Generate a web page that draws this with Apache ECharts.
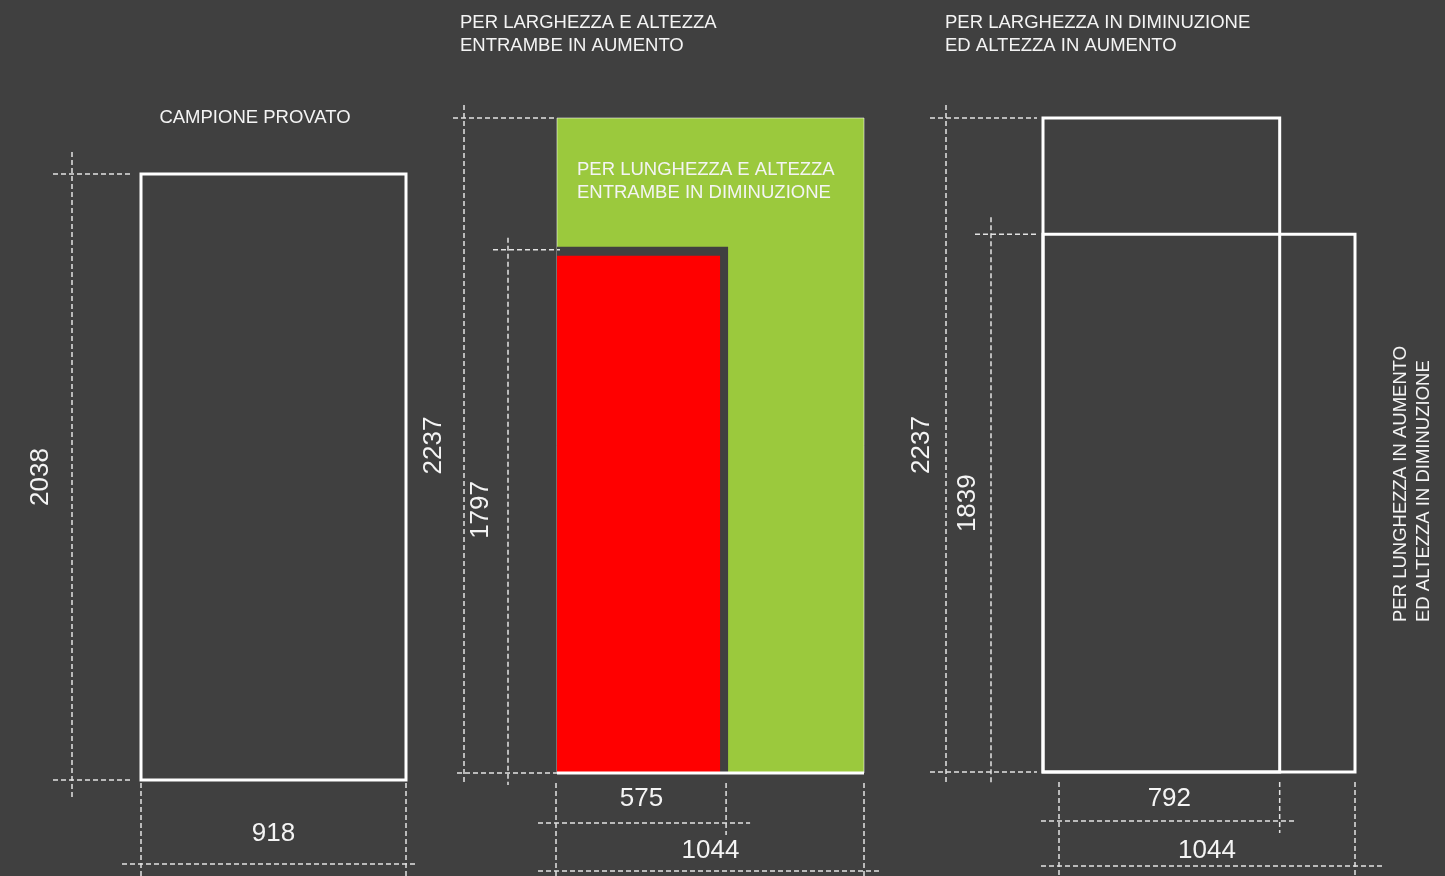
<!DOCTYPE html>
<html>
<head>
<meta charset="utf-8">
<script src="https://cdn.jsdelivr.net/npm/echarts@6/dist/echarts.min.js"></script>
<style>
  html, body { margin: 0; padding: 0; background: #404040; }
  #chart { width: 1445px; height: 876px; }
</style>
</head>
<body>
<div id="chart"></div>
<script>
// misure in mm (larghezza, altezza)
const sampleDims = [918, 2038]
const bothUpDims = [1044, 2237]
const bothDownDims = [575, 1797]
const widthDownDims = [792, 2237]
const widthUpDims = [1044, 1839]

const sampleTitle = 'CAMPIONE PROVATO'
const bothUpTitle = ['PER LARGHEZZA E ALTEZZA', 'ENTRAMBE IN AUMENTO']
const bothDownTitle = ['PER LUNGHEZZA E ALTEZZA', 'ENTRAMBE IN DIMINUZIONE']
const widthDownTitle = ['PER LARGHEZZA IN DIMINUZIONE', 'ED ALTEZZA IN AUMENTO']
const widthUpTitle = ['PER LUNGHEZZA IN AUMENTO', 'ED ALTEZZA IN DIMINUZIONE']

const bg = '#404040'
const dimColor = '#e2e2e2'
const font = 'Liberation Sans, Arial, sans-serif'

function dash(x1, y1, x2, y2) {
  return {
    type: 'line',
    shape: { x1: x1, y1: y1, x2: x2, y2: y2 },
    style: { stroke: dimColor, lineWidth: 1.5, lineDash: [5, 3] }
  }
}

function solid(x1, y1, x2, y2, w) {
  return {
    type: 'line',
    shape: { x1: x1, y1: y1, x2: x2, y2: y2 },
    style: { stroke: '#fff', lineWidth: w }
  }
}

function box(a, b, style) {
  return {
    type: 'rect',
    shape: { x: a[0], y: b[1], width: b[0] - a[0], height: a[1] - b[1] },
    style: style
  }
}

function dimLabel(x, y, val, vertical) {
  return {
    type: 'text',
    x: x,
    y: y,
    rotation: vertical ? Math.PI / 2 : 0,
    style: {
      text: String(val),
      fill: '#f4f4f4',
      font: '26px ' + font,
      align: 'center',
      verticalAlign: 'middle'
    }
  }
}

function caption(x, y, str, align, rotated) {
  return {
    type: 'text',
    x: x,
    y: y,
    z: 100,
    rotation: rotated ? Math.PI / 2 : 0,
    style: {
      text: str,
      fill: '#f4f4f4',
      font: '18.5px ' + font,
      align: align || 'left',
      verticalAlign: 'middle'
    }
  }
}

// campione provato
function renderSample(params, api) {
  const w = api.value(0), h = api.value(1)
  const o = api.coord([0, 0])
  const p = api.coord([w, h])
  return {
    type: 'group',
    children: [
      box(o, p, { fill: 'none', stroke: '#fff', lineWidth: 3 }),
      dash(o[0] - 69, p[1] - 22, o[0] - 69, o[1] + 17),
      dash(o[0] - 88, p[1], o[0] - 11, p[1]),
      dash(o[0] - 88, o[1], o[0] - 11, o[1]),
      dimLabel(o[0] - 100, (o[1] + p[1]) / 2, h, true),
      dash(o[0] - 19, o[1] + 84, p[0] + 12, o[1] + 84),
      dash(o[0], o[1] + 3, o[0], o[1] + 96),
      dash(p[0], o[1] + 3, p[0], o[1] + 96),
      dimLabel((o[0] + p[0]) / 2, o[1] + 54, w, false)
    ]
  }
}

// larghezza e altezza in aumento / in diminuzione
function renderBoth(params, api) {
  const W = api.value(0), H = api.value(1), w = api.value(2), h = api.value(3)
  const o = api.coord([0, 0])
  const P = api.coord([W, H])
  const p = api.coord([w, h])
  return {
    type: 'group',
    children: [
      box(o, P, { fill: '#9bc93d', stroke: 'rgba(255,255,255,0.55)', lineWidth: 1 }),
      box(o, [p[0] + 2, p[1]], { fill: bg }),
      box(o, [p[0] - 6, p[1] + 9], { fill: '#ff0000' }),
      solid(o[0], o[1], P[0], o[1], 3),
      // altezza esterna
      dash(o[0] - 93, P[1] - 13, o[0] - 93, o[1] + 12),
      dash(o[0] - 104, P[1], o[0], P[1]),
      dash(o[0] - 100, o[1], o[0], o[1]),
      dimLabel(o[0] - 123, (o[1] + P[1]) / 2, H, true),
      // altezza interna
      dash(o[0] - 49, p[1] - 9, o[0] - 49, o[1] + 12),
      dash(o[0] - 64, p[1] + 3, o[0] + 3, p[1] + 3),
      dimLabel(o[0] - 76, (o[1] + p[1]) / 2, h, true),
      // larghezze
      dash(o[0] - 1, o[1] + 10, o[0] - 1, o[1] + 103),
      dash(p[0], o[1] + 10, p[0], o[1] + 62),
      dash(P[0], o[1] + 10, P[0], o[1] + 103),
      dash(o[0] - 19, o[1] + 50, p[0] + 24, o[1] + 50),
      dash(o[0] - 19, o[1] + 98, P[0] + 16, o[1] + 98),
      dimLabel((o[0] + p[0]) / 2, o[1] + 26, w, false),
      dimLabel((o[0] + P[0]) / 2, o[1] + 78, W, false)
    ]
  }
}

// larghezza in diminuzione / in aumento
function renderWidth(params, api) {
  const wa = api.value(0), ha = api.value(1), wb = api.value(2), hb = api.value(3)
  const o = api.coord([0, 0])
  const a = api.coord([wa, ha])
  const b = api.coord([wb, hb])
  const line = { fill: 'none', stroke: '#fff', lineWidth: 3 }
  return {
    type: 'group',
    children: [
      box(o, a, line),
      box(o, b, line),
      dash(o[0] - 97, a[1] - 13, o[0] - 97, o[1] + 13),
      dash(o[0] - 113, a[1], o[0] - 6, a[1]),
      dash(o[0] - 113, o[1], o[0] - 6, o[1]),
      dimLabel(o[0] - 121, (o[1] + a[1]) / 2, ha, true),
      dash(o[0] - 52, b[1] - 17, o[0] - 52, o[1] + 13),
      dash(o[0] - 68, b[1], o[0] - 6, b[1]),
      dimLabel(o[0] - 75, (o[1] + b[1]) / 2, hb, true),
      dash(o[0] + 16, o[1] + 10, o[0] + 16, o[1] + 104),
      dash(a[0], o[1] + 10, a[0], o[1] + 61),
      dash(b[0], o[1] + 10, b[0], o[1] + 104),
      dash(o[0] - 2, o[1] + 49, a[0] + 15, o[1] + 49),
      dash(o[0] - 2, o[1] + 94, b[0] + 27, o[1] + 94),
      dimLabel((o[0] + 16 + a[0]) / 2, o[1] + 27, wa, false),
      dimLabel((o[0] + 16 + b[0]) / 2, o[1] + 79, wb, false)
    ]
  }
}

const chart = echarts.init(document.getElementById('chart'))

chart.setOption({
  backgroundColor: bg,
  animation: false,
  grid: [
    { left: 141, top: 174, width: 265, height: 606 },
    { left: 557, top: 118, width: 307, height: 655 },
    { left: 1043, top: 118, width: 312, height: 654 }
  ],
  xAxis: [
    { gridIndex: 0, type: 'value', min: 0, max: sampleDims[0], show: false },
    { gridIndex: 1, type: 'value', min: 0, max: bothUpDims[0], show: false },
    { gridIndex: 2, type: 'value', min: 0, max: widthUpDims[0], show: false }
  ],
  yAxis: [
    { gridIndex: 0, type: 'value', min: 0, max: sampleDims[1], show: false },
    { gridIndex: 1, type: 'value', min: 0, max: bothUpDims[1], show: false },
    { gridIndex: 2, type: 'value', min: 0, max: widthDownDims[1], show: false }
  ],
  series: [
    {
      type: 'custom',
      xAxisIndex: 0,
      yAxisIndex: 0,
      renderItem: renderSample,
      data: [sampleDims]
    },
    {
      type: 'custom',
      xAxisIndex: 1,
      yAxisIndex: 1,
      renderItem: renderBoth,
      data: [bothUpDims.concat(bothDownDims)]
    },
    {
      type: 'custom',
      xAxisIndex: 2,
      yAxisIndex: 2,
      renderItem: renderWidth,
      data: [widthDownDims.concat(widthUpDims)]
    }
  ],
  graphic: {
    elements: [
      caption(255, 118, sampleTitle, 'center'),
      caption(460, 23, bothUpTitle[0]),
      caption(460, 46, bothUpTitle[1]),
      caption(577, 170, bothDownTitle[0]),
      caption(577, 193, bothDownTitle[1]),
      caption(945, 23, widthDownTitle[0]),
      caption(945, 46, widthDownTitle[1]),
      caption(1401, 622, widthUpTitle[0], 'left', true),
      caption(1424, 622, widthUpTitle[1], 'left', true)
    ]
  }
})
</script>
</body>
</html>
